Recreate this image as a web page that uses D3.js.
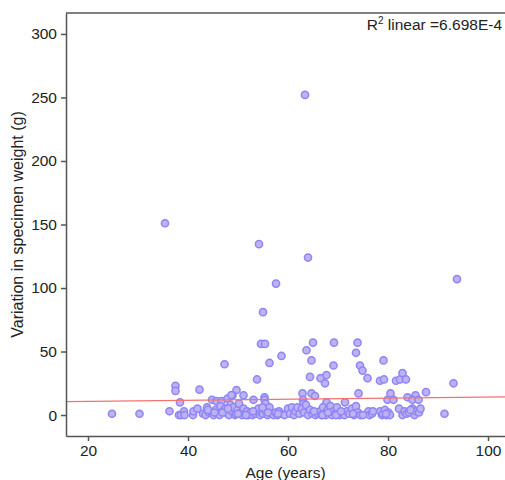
<html>

<head>

<script src="https://cdn.jsdelivr.net/npm/d3@7"></script>

<style>

    body {
        margin: 0;
        background: white;
    }

    svg {
        display: block;
        font-family: 'Liberation Sans', Arial, Helvetica, sans-serif;
    }

    .axis path, .axis line {
        stroke: #555;
        stroke-width: 1.5px;
    }

    .axis text {
        font-size: 15.5px;
        fill: #222;
    }

    .dot {
        fill: #c1b0f2;
        stroke: #8a86f6;
        stroke-width: 1.5px;
    }

    .fit {
        stroke: #f47272;
        stroke-width: 1.3px;
    }

    .label {
        font-size: 15.5px;
        fill: #222;
    }

</style>

</head>

<body>

    <svg id='chart' width=505 height=480></svg>

<script>

    // ages (years) and variation in weight (g)
    var ages = [
        63.4, 35.4, 54.2, 64.0, 57.6, 93.8, 55.0,
        54.6, 55.4, 65.0, 69.2, 73.9, 63.7, 73.6, 47.3, 58.7, 56.3, 64.7,
        69.1, 74.4, 74.9, 79.1, 64.4, 66.5, 67.7, 67.4, 75.9, 53.8,
        78.4, 79.2, 81.6, 82.4, 82.9, 83.6, 93.1, 87.6,
        37.5, 37.5, 42.3, 49.7, 48.9, 51.1, 62.9, 64.7, 65.4, 74.1, 80.5,
        38.4, 44.8, 45.7, 46.7, 47.9, 48.7, 53.1, 55.3, 55.3, 55.5, 63.0, 63.1,
        71.4, 67.7, 79.9, 81.1, 83.9, 85.5, 84.9, 86.1,
        24.8, 30.3, 36.3, 38.2, 38.6, 39.2, 39.3, 41.0, 41.1, 41.9,
        43.0, 43.5, 43.8, 44.2, 44.8, 45.1, 45.5, 45.9, 46.3, 46.5,
        47.0, 47.5, 47.9, 48.2, 48.5, 48.8, 49.1, 49.4, 49.6, 49.9,
        50.2, 50.5, 50.8, 51.1, 51.4, 51.8, 52.0, 52.5, 52.9, 53.4,
        53.7, 54.1, 54.4, 54.7, 55.0, 55.4, 55.9, 56.3, 56.7, 57.1,
        57.5, 57.9, 58.2, 58.6, 59.3, 60.0, 60.4, 60.8, 61.2, 61.5,
        61.9, 62.3, 62.8, 63.2, 63.6, 64.0, 64.4, 64.9, 65.5, 66.0,
        66.4, 66.7, 67.0, 67.3, 67.6, 67.9, 68.2, 68.5, 68.8, 69.1,
        69.5, 69.8, 70.3, 70.8, 71.3, 71.8, 72.3, 72.8, 73.2, 73.6,
        74.0, 74.5, 76.1, 76.3, 76.8, 78.4, 78.8, 79.0, 79.4, 79.7,
        80.1, 80.4, 82.2, 82.9, 83.3, 83.7, 84.2, 84.9, 85.3, 85.6,
        86.2, 86.5, 91.3,
        44.0, 45.3, 46.9, 48.0, 50.0, 51.6, 53.0, 54.9, 56.0, 58.0,
        65.2, 66.9, 68.0, 69.6, 70.6, 73.0, 75.0, 77.0, 79.6, 84.5
    ];

    var variations = [
        252, 151, 134.5, 124, 103.5, 107, 81,
        56, 56, 57, 57, 57, 51, 49, 40, 46.5, 41, 43,
        39, 39, 35, 43, 30, 29, 31.5, 25, 29, 28,
        27, 28, 27, 28, 33, 28, 25, 18,
        23, 19, 20, 19.7, 15.5, 15.5, 17, 17, 15, 17, 17,
        10, 12, 11, 11, 13, 15.7, 12, 14, 12, 9, 12, 9,
        10, 10, 12, 12, 14, 15.5, 12, 12,
        1, 1, 3, 0, 0, 3, 0, 0, 3, 5,
        1, 0, 6, 2, 2, 0, 4, 1, 0, 7,
        3, 5, 1, 0, 8, 3, 6, 0, 1, 4,
        9, 2, 0, 5, 1, 3, 0, 2, 0, 1,
        3, 5, 0, 2, 1, 4, 0, 6, 1, 0,
        2, 0, 3, 1, 0, 5, 1, 6, 0, 3,
        6, 1, 5, 2, 8, 0, 4, 1, 0, 1,
        3, 0, 6, 1, 0, 4, 2, 7, 0, 3,
        1, 6, 0, 2, 0, 3, 1, 5, 0, 7,
        2, 0, 3, 0, 1, 3, 0, 1, 4, 0,
        2, 0, 5, 0, 3, 1, 2, 5, 0, 3,
        2, 5, 1,
        4, 2, 2, 5, 1, 0, 3, 6, 2, 1,
        3, 0, 2, 0, 3, 1, 0, 3, 1, 4
    ];

    // linear fit shown in the picture
    var fitIntercept = 9.8,
        fitSlope = 0.044;
    var fitLabel = 'linear =6.698E-4';

    var xTicks = [20, 40, 60, 80, 100],
        yTicks = [0, 50, 100, 150, 200, 250, 300];

    var svg = d3.select('#chart');

    var plotLeft = 66, plotRight = 505, plotTop = 13, plotBottom = 436;

    var x = d3.scaleLinear()
            .domain([15.6, 103.4])
            .range([plotLeft, plotRight]);

    var y = d3.scaleLinear()
            .domain([-16.5, 316.5])
            .range([plotBottom, plotTop]);

    // points first, frame on top
    var points = d3.range(ages.length).map(function(i) {
        return {age: ages[i], v: variations[i]};
    });

    svg.append('g')
        .selectAll('.dot')
        .data(points)
      .enter()
        .append('circle')
        .attr('class', 'dot')
        .attr('cx', function(d) { return x(d.age); })
        .attr('cy', function(d) { return y(d.v); })
        .attr('r', 3.6);

    var x0 = x.domain()[0], x1 = x.domain()[1];
    svg.append('line')
        .attr('class', 'fit')
        .attr('x1', x(x0))
        .attr('y1', y(fitIntercept + fitSlope * x0))
        .attr('x2', x(x1))
        .attr('y2', y(fitIntercept + fitSlope * x1));

    svg.append('g')
        .attr('class', 'axis')
        .attr('transform', 'translate(' + plotLeft + ',0)')
        .call(d3.axisLeft(y).tickValues(yTicks).tickSize(5).tickPadding(4).tickSizeOuter(0));

    svg.append('g')
        .attr('class', 'axis')
        .attr('transform', 'translate(0,' + plotBottom + ')')
        .call(d3.axisBottom(x).tickValues(xTicks).tickSize(5).tickPadding(4).tickSizeOuter(0));

    // top border of the frame
    svg.append('line')
        .attr('x1', plotLeft).attr('x2', plotRight)
        .attr('y1', plotTop).attr('y2', plotTop)
        .style('stroke', '#555')
        .style('stroke-width', 1.5);

    svg.append('text')
        .attr('class', 'label')
        .attr('text-anchor', 'middle')
        .style('font-size', '16px')
        .attr('transform', 'translate(23,' + ((plotTop + plotBottom) / 2) + ') rotate(-90)')
        .text('Variation in specimen weight (g)');

    svg.append('text')
        .attr('class', 'label')
        .attr('text-anchor', 'middle')
        .attr('x', (plotLeft + plotRight) / 2)
        .attr('y', 478)
        .text('Age (years)');

    var r2 = svg.append('text')
        .attr('class', 'label')
        .attr('text-anchor', 'end')
        .attr('x', 502)
        .attr('y', 30);
    r2.append('tspan').text('R');
    r2.append('tspan').attr('dy', -6).style('font-size', '10px').text('2');
    r2.append('tspan').attr('dy', 6).text(' ' + fitLabel);

</script>

</body>

</html>
